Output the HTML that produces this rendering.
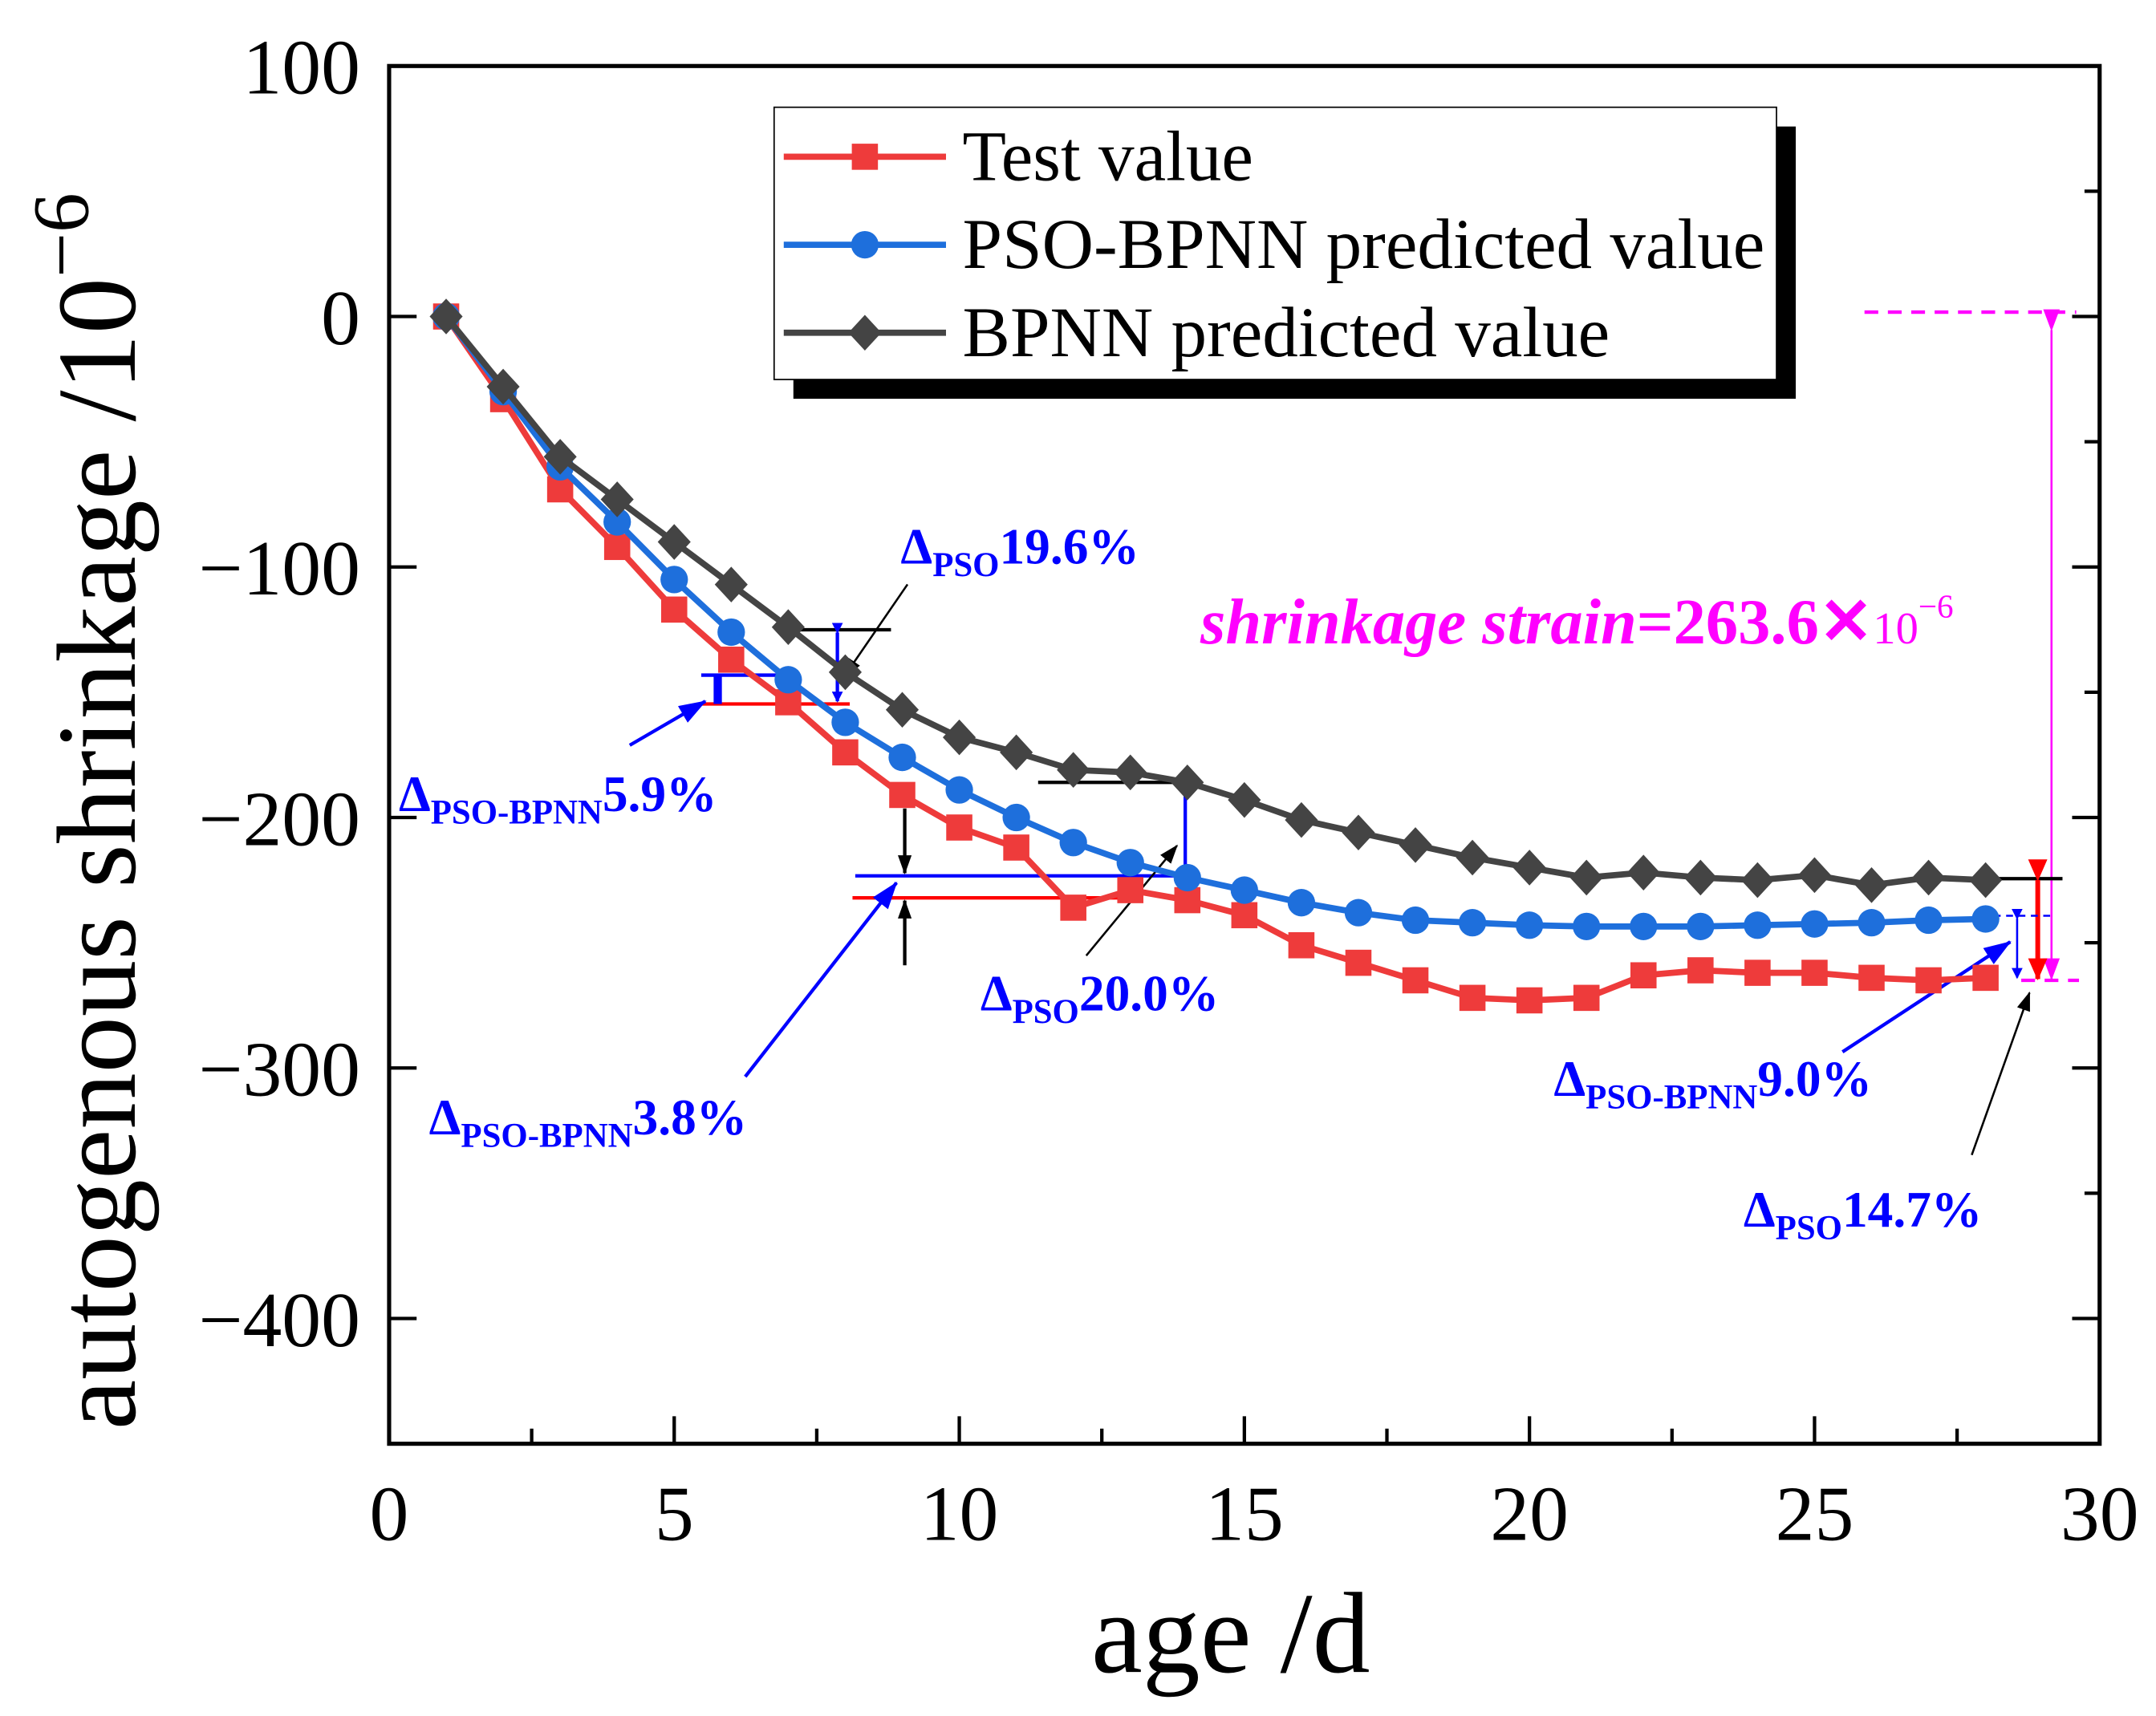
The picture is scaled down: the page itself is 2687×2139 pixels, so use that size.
<!DOCTYPE html>
<html><head><meta charset="utf-8">
<style>
html,body{margin:0;padding:0;background:#fff;}
svg{display:block;}
text{font-family:"Liberation Serif",serif;}
</style></head>
<body>
<svg id="chart" width="2687" height="2139" viewBox="0 0 1568 1248" preserveAspectRatio="none" xmlns="http://www.w3.org/2000/svg">
<defs>
<marker id="ab" markerWidth="8" markerHeight="8" refX="7" refY="4" orient="auto" markerUnits="userSpaceOnUse"><path d="M0,0 L8,4 L0,8 z" fill="#0000ff"/></marker>
<marker id="ak" markerWidth="14" markerHeight="10" refX="13" refY="5" orient="auto" markerUnits="userSpaceOnUse"><path d="M0,0 L14,5 L0,10 z" fill="#000"/></marker>
<marker id="abl" markerWidth="20" markerHeight="14" refX="19" refY="7" orient="auto" markerUnits="userSpaceOnUse"><path d="M0,0 L20,7 L0,14 z" fill="#0000ff"/></marker>
<marker id="ar" markerWidth="16" markerHeight="14" refX="15" refY="7" orient="auto" markerUnits="userSpaceOnUse"><path d="M0,0 L16,7 L0,14 z" fill="#ff0000"/></marker>
<marker id="am" markerWidth="16" markerHeight="12" refX="15" refY="6" orient="auto" markerUnits="userSpaceOnUse"><path d="M0,0 L16,6 L0,12 z" fill="#ff00ff"/></marker>
</defs>
<g id="grid-ticks"></g>
<g id="annot"></g>
<g id="series"></g>
<g id="overlay"></g>
</svg>
<script>
const days = [1,2,3,4,5,6,7,8,9,10,11,12,13,14,15,16,17,18,19,20,21,22,23,24,25,26,27,28];
const testValues = [0,-33,-69,-92,-117,-137,-154,-174,-191,-204,-212,-236,-229,-233,-239,-251,-258,-265,-272,-273,-272,-263,-261,-262,-262,-264,-265,-264];
const psoValues = [0,-30,-60,-82,-105,-126,-145,-162,-176,-189,-200,-210,-218,-224,-229,-234,-238,-241,-242,-243,-243.5,-243.5,-243.5,-243,-242.5,-242,-241,-240.5];
const bpnnValues = [0,-28,-56,-73,-90,-107,-124,-142,-157,-168,-174,-181,-182,-186,-193,-201,-206,-211,-216,-220,-224,-222,-224,-225,-223,-227,-224,-225];
const xTicks = [0,5,10,15,20,25,30];
const yTicks = [100,0,-100,-200,-300,-400];
const yTickLabels = ["100","0","\u2212100","\u2212200","\u2212300","\u2212400"];

const NS = "http://www.w3.org/2000/svg";
const L=283,R=1527,T=48,B=1050;
const X0=0,X1=30,Y0=-450,Y1=100;
function sx(v){return L+(v-X0)/(X1-X0)*(R-L);}
function sy(v){return B-(v-Y0)/(Y1-Y0)*(B-T);}
function el(tag,attrs,parent){const e=document.createElementNS(NS,tag);for(const k in attrs)e.setAttribute(k,attrs[k]);parent.appendChild(e);return e;}

const gt=document.getElementById('grid-ticks');
const frame=el('rect',{x:L,y:T,width:R-L,height:B-T,fill:'none',stroke:'#000','stroke-width':3},gt);


for(let v=0;v<=30;v+=2.5){
  const major=v%5===0;
  const t=el('line',{x1:sx(v),x2:sx(v),y1:B,y2:B-(major?20:11),stroke:'#000','stroke-width':2.5},gt);
  
  
}
xTicks.forEach(v=>{
  const t=el('text',{x:sx(v),y:B+70,'font-size':57,'text-anchor':'middle'},gt);
  t.textContent=String(v);
  
  
});
for(let v=-450;v<=100;v+=50){
  const major=v%100===0;
  const a=el('line',{x1:L,x2:L+(major?20:0),y1:sy(v),y2:sy(v),stroke:'#000','stroke-width':2.5},gt);
  
  
  const b=el('line',{x1:R,x2:R-(major?20:11),y1:sy(v),y2:sy(v),stroke:'#000','stroke-width':2.5},gt);
  
  
}
yTicks.forEach((v,i)=>{
  const t=el('text',{x:262,y:sy(v)+20,'font-size':57,'text-anchor':'end'},gt);
  t.textContent=yTickLabels[i];
  
  
});
const xt=el('text',{x:895,y:1216,'font-size':84,'text-anchor':'middle'},gt);
xt.textContent='age /d';


const yt=el('text',{x:0,y:0,'font-size':82,'text-anchor':'middle',transform:'translate(98,590) rotate(-90)'},gt);
yt.innerHTML='autogenous shrinkage /10<tspan font-size="58" dy="-34">\u22126</tspan>';



const an=document.getElementById('annot');
function ln(x1,y1,x2,y2,c,w,extra,name){const e=el('line',Object.assign({x1,y1,x2,y2,stroke:c,'stroke-width':w},extra||{}),an);return e;}
function tx(x,y,main,sub,tail,name){const e=el('text',{x,y,'font-size':37,'font-weight':'bold',fill:'#0000ff'},an);e.innerHTML=main+'<tspan font-size="25" dy="9">'+sub+'</tspan><tspan dy="-9">'+tail+'</tspan>';return e;}
ln(510,491,574,491,'#0000ff',2.5);
ln(510,512,618,512,'#ff0000',2.5);
ln(522,491,522,512,'#0000ff',6);
ln(458,542,513,510,'#0000ff',2.5,{'marker-end':'url(#abl)'});
tx(290,590,'\u0394','PSO-BPNN','5.9%','label-pso-bpnn-5-9');
ln(575,458,648,458,'#000',2.5);
ln(609,460,609,510,'#0000ff',2.5,{'marker-start':'url(#ab)','marker-end':'url(#ab)'});
ln(660,425,614,492,'#000',1.5,{'marker-end':'url(#ak)'});
tx(655,410,'\u0394','PSO','19.6%','label-pso-19-6');
ln(622,637,858,637,'#0000ff',2.5);
ln(620,653,818,653,'#ff0000',2.5);
ln(658,588,658,635,'#000',2.5,{'marker-end':'url(#ak)'});
ln(658,702,658,655,'#000',2.5,{'marker-end':'url(#ak)'});
ln(542,783,652,642,'#0000ff',2.5,{'marker-end':'url(#abl)'});
tx(312,825,'\u0394','PSO-BPNN','3.8%','label-pso-bpnn-3-8');
ln(755,569,870,569,'#000',2.5);
ln(862,571,862,650,'#0000ff',2.5,{'marker-start':'url(#ab)','marker-end':'url(#ab)'});
ln(790,695,856,615,'#000',1.5,{'marker-end':'url(#ak)'});
tx(713,735,'\u0394','PSO','20.0%','label-pso-20-0');
ln(1356,227,1510,227,'#ff00ff',2.5,{'stroke-dasharray':'10,7'});
ln(1470,713,1512,713,'#ff00ff',2.5,{'stroke-dasharray':'10,7'});
ln(1492,240,1492,712,'#ff00ff',1.5,{'marker-start':'url(#am)','marker-end':'url(#am)'});
ln(1450,639,1500,639,'#000',2.5);
ln(1482,640,1482,712,'#ff0000',3.5,{'marker-start':'url(#ar)','marker-end':'url(#ar)'});
ln(1450,666,1492,666,'#0000ff',1.5,{'stroke-dasharray':'5,4'});
ln(1467,668,1467,711,'#0000ff',1.5,{'marker-start':'url(#ab)','marker-end':'url(#ab)'});
ln(1340,765,1462,685,'#0000ff',2.5,{'marker-end':'url(#abl)'});
tx(1130,797,'\u0394','PSO-BPNN','9.0%','label-pso-bpnn-9-0');
ln(1434,840,1476,722,'#000',1.5,{'marker-end':'url(#ak)'});
tx(1268,892,'\u0394','PSO','14.7%','label-pso-14-7');
const ss=el('text',{x:873,y:468,'font-size':47,'font-weight':'bold',fill:'#ff00ff'},an);
ss.innerHTML='<tspan font-style="italic">shrinkage strain</tspan>=263.6\u2715<tspan font-size="33" font-weight="normal">10</tspan><tspan font-size="24" font-weight="normal" dy="-19">\u22126</tspan>';



const sg=document.getElementById('series');
function marker(type,x,y,c,parent){
  if(type==='sq') return el('rect',{x:x-9.5,y:y-9.5,width:19,height:19,fill:c},parent);
  if(type==='ci') return el('circle',{cx:x,cy:y,r:10,fill:c},parent);
  return el('path',{d:`M${x},${y-13} L${x+12},${y} L${x},${y+13} L${x-12},${y} Z`,fill:c},parent);
}
function drawSeries(vals,color,type,name){
  const g=el('g',{},sg);
  
  
  const pts=days.map((d,i)=>sx(d)+','+sy(vals[i])).join(' ');
  const pl=el('polyline',{points:pts,fill:'none',stroke:color,'stroke-width':4.5},g);
  
  
  days.forEach((d,i)=>{
    const m=marker(type,sx(d),sy(vals[i]),color,g);
    
    
  });
}
drawSeries(testValues,'#ee3b3b','sq','test-value');
drawSeries(psoValues,'#1e6fdc','ci','pso-bpnn');
drawSeries(bpnnValues,'#444444','di','bpnn');

const ov=document.getElementById('overlay');
const lg=el('g',{},ov);


el('rect',{x:577,y:92,width:729,height:198,fill:'#000'},lg);
el('rect',{x:563,y:78,width:729,height:198,fill:'#fff',stroke:'#000','stroke-width':1},lg);
const entries=[['Test value','#ee3b3b','sq',114],['PSO-BPNN predicted value','#1e6fdc','ci',178],['BPNN predicted value','#444444','di',242]];
entries.forEach(e=>{
  const g=el('g',{},lg);
  
  
  el('line',{x1:570,x2:688,y1:e[3],y2:e[3],stroke:e[1],'stroke-width':4.5},g);
  marker(e[2],629,e[3],e[1],g);
  const t=el('text',{x:700,y:e[3]+17,'font-size':52},g);
  t.textContent=e[0];
});
</script>
</body></html>
